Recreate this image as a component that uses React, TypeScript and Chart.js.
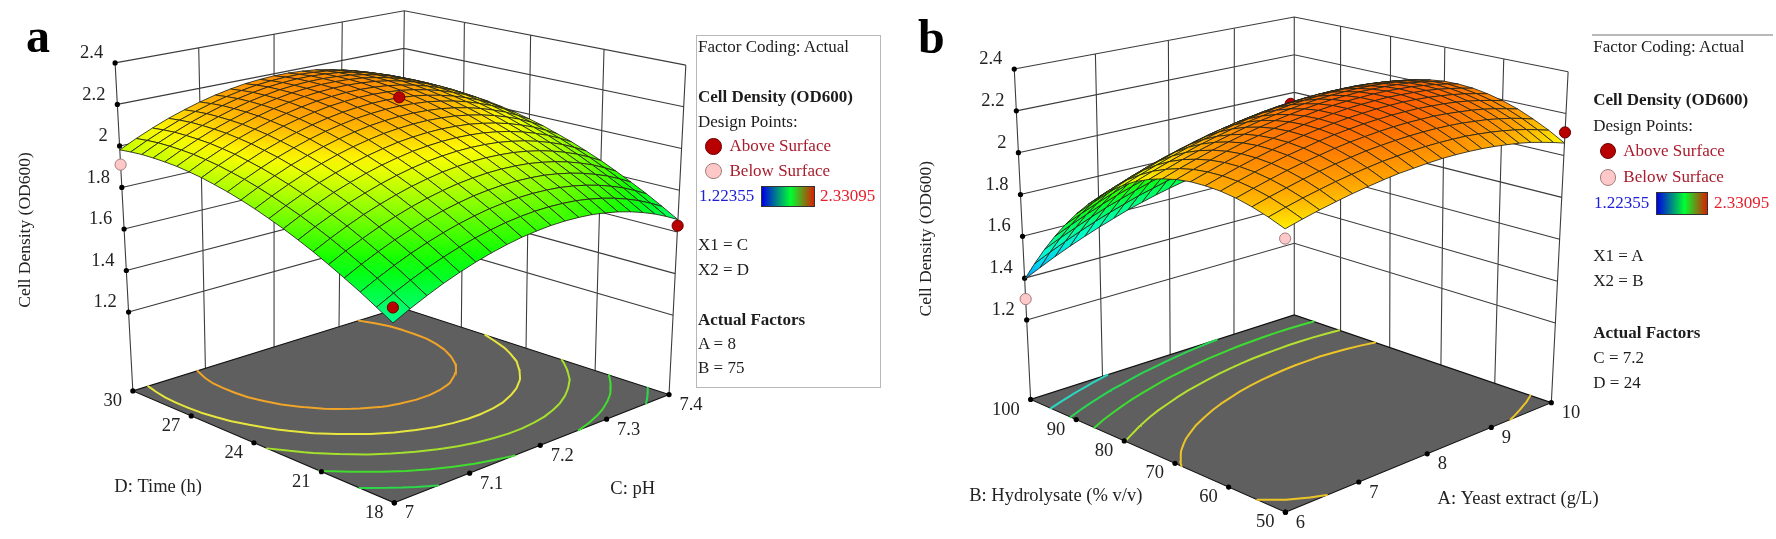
import React, { useEffect, useRef } from 'react';
import { Chart, registerables } from 'chart.js';
Chart.register(...registerables);

const Z_TOP = 2.4, Z_FLOOR = 0.82;
const zTicks = [1.2, 1.4, 1.6, 1.8, 2, 2.2, 2.4];
const aX1 = [7, 7.1, 7.2, 7.3, 7.4];
const aX2 = [18, 21, 24, 27, 30];
const bX1 = [6, 7, 8, 9, 10];
const bX2 = [50, 60, 70, 80, 90, 100];
const MIN = 1.22355, MAX = 2.33095;

// Cell density: one row per Time step (18 to 30 h), one column per pH step (7 to 7.4)
const surfaceA = [
  [1.621,1.659,1.693,1.724,1.750,1.773,1.792,1.807,1.819,1.826,1.830,1.830,1.826,1.819,1.807,1.792,1.773,1.750,1.724,1.693,1.659],
  [1.665,1.703,1.737,1.768,1.794,1.817,1.836,1.851,1.863,1.870,1.874,1.874,1.870,1.863,1.851,1.836,1.817,1.794,1.768,1.737,1.703],
  [1.707,1.745,1.779,1.810,1.836,1.859,1.878,1.893,1.905,1.912,1.916,1.916,1.912,1.905,1.893,1.878,1.859,1.836,1.810,1.779,1.745],
  [1.745,1.783,1.817,1.848,1.874,1.897,1.916,1.931,1.943,1.950,1.954,1.954,1.950,1.943,1.931,1.916,1.897,1.874,1.848,1.817,1.783],
  [1.781,1.819,1.853,1.884,1.910,1.933,1.952,1.967,1.979,1.986,1.990,1.990,1.986,1.979,1.967,1.952,1.933,1.910,1.884,1.853,1.819],
  [1.815,1.853,1.887,1.918,1.944,1.967,1.986,2.001,2.013,2.020,2.024,2.024,2.020,2.013,2.001,1.986,1.967,1.944,1.918,1.887,1.853],
  [1.845,1.883,1.917,1.948,1.974,1.997,2.016,2.031,2.043,2.050,2.054,2.054,2.050,2.043,2.031,2.016,1.997,1.974,1.948,1.917,1.883],
  [1.873,1.911,1.945,1.976,2.002,2.025,2.044,2.059,2.071,2.078,2.082,2.082,2.078,2.071,2.059,2.044,2.025,2.002,1.976,1.945,1.911],
  [1.897,1.935,1.969,2.000,2.026,2.049,2.068,2.083,2.095,2.102,2.106,2.106,2.102,2.095,2.083,2.068,2.049,2.026,2.000,1.969,1.935],
  [1.920,1.958,1.992,2.023,2.049,2.072,2.091,2.106,2.118,2.125,2.129,2.129,2.125,2.118,2.106,2.091,2.072,2.049,2.023,1.992,1.958],
  [1.939,1.977,2.011,2.042,2.068,2.091,2.110,2.125,2.137,2.144,2.148,2.148,2.144,2.137,2.125,2.110,2.091,2.068,2.042,2.011,1.977],
  [1.956,1.994,2.028,2.059,2.085,2.108,2.127,2.142,2.154,2.161,2.165,2.165,2.161,2.154,2.142,2.127,2.108,2.085,2.059,2.028,1.994],
  [1.969,2.007,2.041,2.072,2.098,2.121,2.140,2.155,2.167,2.174,2.178,2.178,2.174,2.167,2.155,2.140,2.121,2.098,2.072,2.041,2.007],
  [1.981,2.019,2.053,2.084,2.110,2.133,2.152,2.167,2.179,2.186,2.190,2.190,2.186,2.179,2.167,2.152,2.133,2.110,2.084,2.053,2.019],
  [1.989,2.027,2.061,2.092,2.118,2.141,2.160,2.175,2.187,2.194,2.198,2.198,2.194,2.187,2.175,2.160,2.141,2.118,2.092,2.061,2.027],
  [1.995,2.033,2.067,2.098,2.124,2.147,2.166,2.181,2.193,2.200,2.204,2.204,2.200,2.193,2.181,2.166,2.147,2.124,2.098,2.067,2.033],
  [1.997,2.035,2.069,2.100,2.126,2.149,2.168,2.183,2.195,2.202,2.206,2.206,2.202,2.195,2.183,2.168,2.149,2.126,2.100,2.069,2.035],
  [1.997,2.035,2.069,2.100,2.126,2.149,2.168,2.183,2.195,2.202,2.206,2.206,2.202,2.195,2.183,2.168,2.149,2.126,2.100,2.069,2.035],
  [1.995,2.033,2.067,2.098,2.124,2.147,2.166,2.181,2.193,2.200,2.204,2.204,2.200,2.193,2.181,2.166,2.147,2.124,2.098,2.067,2.033],
  [1.989,2.027,2.061,2.092,2.118,2.141,2.160,2.175,2.187,2.194,2.198,2.198,2.194,2.187,2.175,2.160,2.141,2.118,2.092,2.061,2.027],
  [1.981,2.019,2.053,2.084,2.110,2.133,2.152,2.167,2.179,2.186,2.190,2.190,2.186,2.179,2.167,2.152,2.133,2.110,2.084,2.053,2.019],
];
// Cell density: one row per Hydrolysate step (50 to 100), one column per Yeast extract step (6 to 10)
const surfaceB = [
  [2.073,2.092,2.109,2.123,2.136,2.146,2.155,2.162,2.165,2.168,2.169,2.167,2.163,2.157,2.149,2.139,2.128,2.114,2.097,2.079,2.059],
  [2.100,2.120,2.138,2.153,2.167,2.178,2.187,2.195,2.199,2.203,2.204,2.203,2.200,2.196,2.188,2.179,2.168,2.155,2.140,2.122,2.103],
  [2.121,2.142,2.160,2.177,2.191,2.203,2.213,2.222,2.227,2.231,2.233,2.233,2.231,2.227,2.221,2.212,2.203,2.190,2.176,2.159,2.140],
  [2.136,2.157,2.176,2.194,2.209,2.221,2.233,2.242,2.248,2.253,2.256,2.257,2.255,2.253,2.247,2.239,2.230,2.219,2.205,2.189,2.172],
  [2.144,2.166,2.186,2.204,2.220,2.233,2.246,2.256,2.263,2.269,2.272,2.274,2.273,2.271,2.266,2.260,2.252,2.241,2.228,2.213,2.196],
  [2.145,2.168,2.189,2.208,2.225,2.239,2.252,2.263,2.271,2.278,2.282,2.285,2.285,2.284,2.280,2.274,2.266,2.256,2.244,2.230,2.214],
  [2.141,2.164,2.186,2.206,2.224,2.238,2.252,2.264,2.273,2.280,2.286,2.289,2.290,2.290,2.286,2.281,2.275,2.266,2.254,2.241,2.226],
  [2.129,2.154,2.176,2.197,2.216,2.231,2.246,2.258,2.268,2.277,2.283,2.287,2.288,2.289,2.287,2.282,2.277,2.268,2.258,2.246,2.231],
  [2.111,2.137,2.160,2.182,2.201,2.218,2.233,2.246,2.257,2.266,2.273,2.278,2.280,2.282,2.280,2.277,2.272,2.265,2.255,2.243,2.230],
  [2.087,2.113,2.138,2.160,2.180,2.197,2.214,2.228,2.239,2.249,2.257,2.263,2.266,2.268,2.268,2.265,2.261,2.254,2.246,2.235,2.222],
  [2.057,2.084,2.109,2.132,2.153,2.171,2.188,2.203,2.215,2.226,2.235,2.241,2.245,2.249,2.249,2.247,2.244,2.238,2.230,2.220,2.208],
  [2.019,2.047,2.073,2.097,2.119,2.138,2.156,2.172,2.185,2.197,2.206,2.213,2.218,2.222,2.223,2.222,2.220,2.215,2.208,2.199,2.188],
  [1.976,2.005,2.031,2.056,2.079,2.099,2.117,2.134,2.148,2.160,2.171,2.179,2.185,2.189,2.191,2.191,2.190,2.185,2.179,2.171,2.160],
  [1.926,1.955,1.983,2.009,2.032,2.053,2.072,2.090,2.104,2.118,2.129,2.138,2.145,2.150,2.153,2.153,2.153,2.149,2.144,2.136,2.127],
  [1.869,1.900,1.928,1.955,1.979,2.000,2.021,2.039,2.054,2.069,2.081,2.091,2.098,2.104,2.108,2.109,2.110,2.107,2.102,2.096,2.087],
  [1.806,1.838,1.867,1.894,1.919,1.942,1.963,1.982,1.998,2.013,2.026,2.037,2.045,2.052,2.056,2.059,2.060,2.058,2.054,2.048,2.041],
  [1.737,1.769,1.799,1.827,1.853,1.876,1.898,1.918,1.935,1.951,1.965,1.976,1.986,1.994,1.999,2.002,2.004,2.003,2.000,1.995,1.988],
  [1.661,1.694,1.725,1.754,1.781,1.805,1.827,1.848,1.866,1.883,1.897,1.910,1.920,1.929,1.934,1.938,1.941,1.941,1.939,1.935,1.929],
  [1.579,1.613,1.644,1.674,1.702,1.726,1.750,1.772,1.791,1.808,1.823,1.837,1.847,1.857,1.864,1.868,1.872,1.873,1.871,1.868,1.863],
  [1.490,1.525,1.557,1.588,1.616,1.642,1.666,1.689,1.708,1.727,1.743,1.757,1.769,1.779,1.787,1.792,1.797,1.798,1.798,1.795,1.791],
  [1.395,1.430,1.464,1.495,1.524,1.551,1.576,1.600,1.620,1.639,1.656,1.671,1.683,1.695,1.703,1.709,1.715,1.717,1.717,1.716,1.712],
];
const N = surfaceA.length;
const levelsA = [2.12, 2.02, 1.92, 1.82, 1.72];
const contourColorsA = ['#f0a428', '#e6e63c', '#a4e02c', '#40dc2e', '#2cd84a'];
const levelsB = [2.12, 1.98, 1.84, 1.7, 1.56];
const contourColorsB = ['#ecc428', '#b4e030', '#3cdc30', '#28d850', '#28d8c0'];
// [x1, x2, z]
const aboveA = [[7.2, 24, 2.24], [7, 18, 1.69], [7.4, 18, 1.63]];
const belowA = [[7, 30, 1.91]];
const aboveBBehind = [[8, 75, 2.24]];
const aboveB = [[10, 50, 2.11]];
const belowB = [[6, 100, 1.3], [6, 50, 2.03]];

const calA = { front: [390.6, 508.7], right: [667.4, 397.7], back: [397, 308.5], left: [127.2, 394], tl: [109.3, 57.7], tb: [400.7, 4.3], tr: [684.3, 60], tf: [388, 145] };
const calB = { front: [1288.4, 518.3], right: [1556.3, 406], back: [1297.3, 316], left: [1031.7, 402.7], tl: [1015.2, 64], tb: [1297.3, 10.7], tr: [1573.2, 66.7], tf: [1288, 152] };

function solve(A: number[][], b: number[]) {
  const n = b.length; const M = A.map((r, i) => [...r, b[i]]);
  for (let c = 0; c < n; c++) {
    let p = c; for (let r = c + 1; r < n; r++) if (Math.abs(M[r][c]) > Math.abs(M[p][c])) p = r;
    [M[c], M[p]] = [M[p], M[c]];
    for (let r = 0; r < n; r++) if (r !== c) { const f = M[r][c] / M[c][c]; for (let k = c; k <= n; k++) M[r][k] -= f * M[c][k]; }
  }
  return M.map((r, i) => r[n] / r[i]);
}
function homography(c00: number[], c10: number[], c11: number[], c01: number[]) {
  const A: number[][] = [], b: number[] = [];
  for (const [u, v, [x, y]] of [[0, 0, c00], [1, 0, c10], [1, 1, c11], [0, 1, c01]] as any[]) {
    A.push([u, v, 1, 0, 0, 0, -x * u, -x * v]); b.push(x);
    A.push([0, 0, 0, u, v, 1, -y * u, -y * v]); b.push(y);
  }
  const h = solve(A, b);
  return (u: number, v: number) => {
    const w = h[6] * u + h[7] * v + 1;
    return [(h[0] * u + h[1] * v + h[2]) / w, (h[3] * u + h[4] * v + h[5]) / w];
  };
}
function camera(cal: any) {
  const F = homography(cal.front, cal.right, cal.back, cal.left);
  const T = homography(cal.tf, cal.tr, cal.tb, cal.tl);
  return (u: number, v: number, z: number) => {
    const q = (z - Z_FLOOR) / (Z_TOP - Z_FLOOR);
    const a = F(u, v), b = T(u, v);
    return { x: a[0] + q * (b[0] - a[0]), y: a[1] + q * (b[1] - a[1]) };
  };
}
const GAP = { x: NaN, y: NaN };
const hue = (z: number) => {
  let h = Math.max(0, Math.min(240, 240 * (1 - (z - MIN) / (MAX - MIN))));
  if (h < 40) h = 40 - (40 - h) * 0.6;
  return `hsl(${h},100%,50%)`;
};

function contour(table: number[][], level: number, P: any) {
  const out: any[] = [];
  const e = N - 1;
  for (let j = 0; j < e; j++) for (let i = 0; i < e; i++) {
    const c = [[i, j], [i + 1, j], [i + 1, j + 1], [i, j + 1]];
    const hits: any[] = [];
    for (let k = 0; k < 4; k++) {
      const [a, b] = [c[k], c[(k + 1) % 4]];
      const za = table[a[1]][a[0]], zb = table[b[1]][b[0]];
      if ((za >= level) !== (zb >= level)) {
        const f = (level - za) / (zb - za);
        hits.push(P((a[0] + f * (b[0] - a[0])) / e, (a[1] + f * (b[1] - a[1])) / e, Z_FLOOR));
      }
    }
    if (hits.length >= 2) out.push(hits[0], hits[1], GAP);
    if (hits.length === 4) out.push(hits[2], hits[3], GAP);
  }
  return out;
}

function panel(cal: any, x1: number[], x2: number[], table: number[][], levels: number[], colors: string[], above: number[][], below: number[][], behind: number[][], o: any) {
  const P = camera(cal);
  const nu = (a: number) => (a - x1[0]) / (x1[x1.length - 1] - x1[0]);
  const nv = (a: number) => (a - x2[0]) / (x2[x2.length - 1] - x2[0]);
  const seg: any[] = [];
  for (const z of zTicks) seg.push(P(0, 1, z), P(1, 1, z), P(1, 0, z), GAP);
  for (const a of x1) seg.push(P(nu(a), 1, Z_FLOOR), P(nu(a), 1, Z_TOP), GAP);
  for (const b of x2) seg.push(P(1, nv(b), Z_FLOOR), P(1, nv(b), Z_TOP), GAP);
  seg.push(P(0, 1, Z_FLOOR), P(0, 1, Z_TOP), GAP);
  const dots = [
    ...zTicks.map(z => P(0, 1, z)),
    ...x1.map(a => P(nu(a), 0, Z_FLOOR)),
    ...x2.map(b => P(0, nv(b), Z_FLOOR)),
  ];
  const dp = (list: number[][]) => list.map(([a, b, z]) => P(nu(a), nv(b), z));
  const grid: any[] = [];
  table.forEach((row, j) => row.forEach((z, i) => grid.push({ ...P(i / (N - 1), j / (N - 1), z), z })));
  const line = { showLine: true, pointRadius: 0, spanGaps: false, tension: 0 };
  const datasets: any[] = [
    { label: 'walls', data: seg, ...line, borderColor: '#3c3c3c', borderWidth: 1.1, order: 90 },
    { label: 'floor', data: [P(0, 0, Z_FLOOR), P(1, 0, Z_FLOOR), P(1, 1, Z_FLOOR), P(0, 1, Z_FLOOR)], polygon: true, pointRadius: 0, order: 85 },
    ...levels.map((l, k) => ({ label: 'contour ' + l, data: contour(table, l, P), ...line, borderColor: colors[k], borderWidth: 2, borderCapStyle: 'round', order: 80 })),
    { label: 'ticks', data: dots, pointRadius: 2.6, pointBackgroundColor: '#000', pointBorderWidth: 0, order: 70 },
    { label: 'above behind', data: dp(behind), pointRadius: 5.6, pointBackgroundColor: '#b80000', pointBorderColor: '#6a0000', pointBorderWidth: 1, order: 60 },
    { label: 'surface', data: grid, surface: true, pointRadius: 0, order: 50 },
    { label: 'above', data: dp(above), pointRadius: 5.6, pointBackgroundColor: '#b80000', pointBorderColor: '#6a0000', pointBorderWidth: 1, order: 40 },
    { label: 'below', data: dp(below), pointRadius: 5.6, pointBackgroundColor: '#ffc8c8', pointBorderColor: '#a07c7c', pointBorderWidth: 1, order: 40 },
  ];
  const texts: any[] = [];
  for (const z of zTicks) { const p = P(0, 1, z); texts.push({ t: String(z), x: p.x - 12, y: p.y - 10, align: 'right' }); }
  for (const a of x1) { const p = P(nu(a), 0, Z_FLOOR); texts.push({ t: String(a), x: p.x + 10.5, y: p.y + 11, align: 'left' }); }
  for (const b of x2) { const p = P(0, nv(b), Z_FLOOR); texts.push({ t: String(b), x: p.x - 11, y: p.y + 10.5, align: 'right' }); }
  texts.push(...o.titles);
  return { datasets, texts };
}

const pa = panel(calA, aX1, aX2, surfaceA, levelsA, contourColorsA, aboveA, belowA, [], {
  titles: [
    { t: 'D: Time (h)', x: 152.7, y: 492.3, align: 'center' },
    { t: 'C: pH', x: 630.8, y: 495, align: 'center' },
    { t: 'Cell Density (OD600)', x: 18.75, y: 229, align: 'center', rot: true },
  ],
});
const pb = panel(calB, bX1, bX2, surfaceB, levelsB, contourColorsB, aboveB, belowB, aboveBBehind, {
  titles: [
    { t: 'B: Hydrolysate (% v/v)', x: 1057, y: 502.3, align: 'center' },
    { t: 'A: Yeast extract (g/L)', x: 1522.8, y: 505, align: 'center' },
    { t: 'Cell Density (OD600)', x: 926.8, y: 238, align: 'center', rot: true },
  ],
});

const drawPlugin = {
  id: 'panelDraw',
  afterDatasetDraw(chart: any, args: any) {
    const ds = chart.data.datasets[args.index];
    const { ctx, scales: { x: sx, y: sy } } = chart;
    const px = (p: any) => [sx.getPixelForValue(p.x), sy.getPixelForValue(p.y)];
    if (ds.polygon) {
      ctx.save(); ctx.beginPath();
      ds.data.forEach((p: any, i: number) => { const [a, b] = px(p); i ? ctx.lineTo(a, b) : ctx.moveTo(a, b); });
      ctx.closePath(); ctx.fillStyle = '#5f5f5f'; ctx.fill();
      ctx.strokeStyle = '#111'; ctx.lineWidth = 1.1; ctx.stroke(); ctx.restore();
    }
    if (ds.surface) {
      ctx.save(); ctx.lineJoin = 'round';
      const at = (i: number, j: number) => ds.data[j * N + i];
      for (let j = N - 2; j >= 0; j--) for (let i = N - 2; i >= 0; i--) {
        const q = [at(i, j), at(i + 1, j), at(i + 1, j + 1), at(i, j + 1)];
        const xy = q.map(px);
        ctx.beginPath();
        xy.forEach(([a, b]: number[], k: number) => { k ? ctx.lineTo(a, b) : ctx.moveTo(a, b); });
        ctx.closePath();
        let lo = 0, hi = 0; q.forEach((p: any, k: number) => { if (p.z < q[lo].z) lo = k; if (p.z > q[hi].z) hi = k; });
        if (lo === hi) ctx.fillStyle = hue(q[lo].z);
        else {
          const g = ctx.createLinearGradient(xy[lo][0], xy[lo][1], xy[hi][0], xy[hi][1]);
          g.addColorStop(0, hue(q[lo].z)); g.addColorStop(1, hue(q[hi].z));
          ctx.fillStyle = g;
        }
        ctx.fill();
        ctx.strokeStyle = 'rgba(35,35,25,0.85)'; ctx.lineWidth = 1; ctx.stroke();
      }
      ctx.restore();
    }
  },
  afterDatasetsDraw(chart: any) {
    const { ctx, scales: { x: sx, y: sy } } = chart;
    ctx.save(); ctx.fillStyle = '#222'; ctx.textBaseline = 'middle';
    for (const T of [...pa.texts, ...pb.texts]) {
      const x = sx.getPixelForValue(T.x), y = sy.getPixelForValue(T.y);
      ctx.textAlign = T.align;
      if (T.rot) { ctx.font = '17.5px "Liberation Serif"'; ctx.save(); ctx.translate(x, y); ctx.rotate(-Math.PI / 2); ctx.fillText(T.t, 0, 0); ctx.restore(); }
      else { ctx.font = '18.5px "Liberation Serif"'; ctx.fillText(T.t, x, y); }
    }
    ctx.restore();
  },
};

const RED = '#a81c2c';
const legendA = [
  ['Factor Coding: Actual', 698, 46.7], ['Cell Density (OD600)', 698, 97, 'b'], ['Design Points:', 698, 121.7],
  ['Above Surface', 729.5, 146, 'r'], ['Below Surface', 729.5, 170.7, 'r'],
  ['X1 = C', 698, 245], ['X2 = D', 698, 270], ['Actual Factors', 698, 320, 'b'], ['A = 8', 698, 344], ['B = 75', 698, 368],
];
const legendB = [
  ['Factor Coding: Actual', 1593.3, 47.3], ['Cell Density (OD600)', 1593.3, 100, 'b'], ['Design Points:', 1593.3, 125.7],
  ['Above Surface', 1623.3, 150.7, 'r'], ['Below Surface', 1623.3, 177, 'r'],
  ['X1 = A', 1593.3, 256], ['X2 = B', 1593.3, 280.7], ['Actual Factors', 1593.3, 332.7, 'b'], ['C = 7.2', 1593.3, 358], ['D = 24', 1593.3, 383],
];
const legendMin = '1.22355', legendMax = '2.33095';

const abs = (x: number, y: number): React.CSSProperties => ({ position: 'absolute', left: x, top: y, transform: 'translateY(-50%)', whiteSpace: 'nowrap' });
function Legend({ rows, dotX, y1, y2, minX, barX, barW, barY, barH, maxX, rowY }: any) {
  const dot = (y: number, bg: string, bd: string) => <div style={{ position: 'absolute', left: dotX - 8, top: y - 8, width: 14.5, height: 14.5, borderRadius: '50%', background: bg, border: `1px solid ${bd}` }} />;
  return <>
    {rows.map(([t, x, y, k]: any) => <div key={t} style={{ ...abs(x, y), fontWeight: k === 'b' ? 'bold' : 'normal', color: k === 'r' ? RED : '#1c1c1c' }}>{t}</div>)}
    {dot(y1, '#b80000', '#6a0000')}{dot(y2, '#ffc8c8', '#a07c7c')}
    <div style={{ ...abs(minX, rowY), color: '#2020d8' }}>{legendMin}</div>
    <div style={{ position: 'absolute', left: barX, top: barY, width: barW, height: barH, boxSizing: 'border-box', border: '1px solid #333', background: 'linear-gradient(90deg,#0000e6,#00ff30 55%,#d82000)' }} />
    <div style={{ ...abs(maxX, rowY), color: '#e8202c' }}>{legendMax}</div>
  </>;
}

export default function App() {
  const ref = useRef<HTMLCanvasElement>(null);
  useEffect(() => {
    const chart = new Chart(ref.current!, {
      type: 'scatter',
      data: { datasets: [...pa.datasets, ...pb.datasets] },
      options: {
        responsive: false, animation: false,
        layout: { padding: 0 },
        plugins: { legend: { display: false }, tooltip: { enabled: false } },
        scales: { x: { type: 'linear', min: 0, max: 1776, display: false }, y: { type: 'linear', min: 0, max: 539, reverse: true, display: false } },
      },
      plugins: [drawPlugin],
    } as any);
    return () => chart.destroy();
  }, []);
  const bigStyle: React.CSSProperties = { position: 'absolute', fontWeight: 'bold', fontSize: 48, lineHeight: '48px', color: '#000' };
  return (
    <div style={{ position: 'fixed', left: 0, top: 0, width: 1776, height: 539, background: '#fff', overflow: 'hidden', fontFamily: '"Liberation Serif"', fontSize: 17 }}>
      <canvas ref={ref} width={1776} height={539} style={{ position: 'absolute', left: 0, top: 0 }} />
      <div style={{ ...bigStyle, left: 26, top: 12 }}>a</div>
      <div style={{ ...bigStyle, left: 918, top: 13 }}>b</div>
      <div style={{ position: 'absolute', left: 695.5, top: 34.5, width: 185, height: 353, boxSizing: 'border-box', border: '1.5px solid #b8b8b8' }} />
      <div style={{ position: 'absolute', left: 1592, top: 34, width: 181, height: 1.5, background: '#b8b8b8' }} />
      <Legend rows={legendA} dotX={713} y1={146} y2={170.7} minX={699} barX={761} barW={54} barY={185.7} barH={21.5} maxX={820} rowY={195.7} />
      <Legend rows={legendB} dotX={1607.7} y1={150.7} y2={177} minX={1594} barX={1655.7} barW={52.5} barY={192} barH={23} maxX={1714} rowY={202.7} />
    </div>
  );
}
